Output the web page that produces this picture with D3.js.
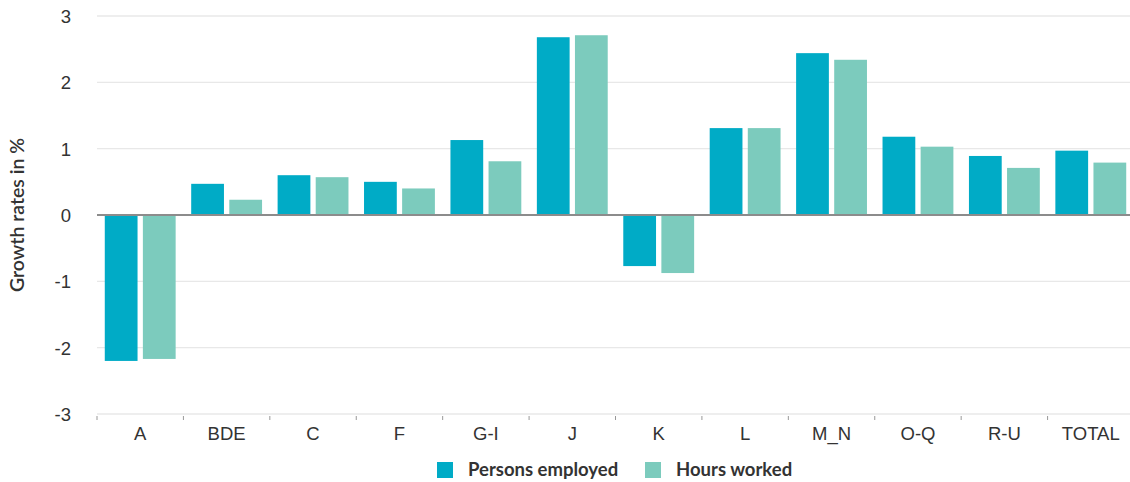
<!DOCTYPE html>
<html><head><meta charset="utf-8">
<script src="https://cdn.jsdelivr.net/npm/d3@7"></script>
<style>
html,body{margin:0;padding:0;background:#fff;}
svg{display:block;font-family:Lato,"Open Sans",sans-serif;}
</style></head>
<body><svg id="c" width="1130" height="482"></svg>
<script>
const categories = ["A","BDE","C","F","G-I","J","K","L","M_N","O-Q","R-U","TOTAL"];
const seriesNames = ["Persons employed","Hours worked"];
const personsEmployed = [-2.20,0.47,0.60,0.50,1.13,2.68,-0.77,1.31,2.44,1.18,0.89,0.97];
const hoursWorked = [-2.17,0.23,0.57,0.40,0.81,2.71,-0.875,1.31,2.34,1.03,0.71,0.79];
const yTicks = [-3,-2,-1,0,1,2,3];
const yTickLabels = ["-3","-2","-1","0","1","2","3"];
const colors = ["#00abc6","#7ccbbd"];

(function(){
const svg = d3.select("#c");
const mLeft = 97, mRight = 1134, mTop = 16, mBottom = 414;
const x = d3.scaleBand().domain(categories).range([mLeft, mRight]).paddingInner(0.18).paddingOuter(0.09);
const xBand = d3.scaleBand().domain(categories).range([mLeft, mRight]);
const x1 = d3.scaleBand().domain(seriesNames).range([0, x.bandwidth()]).paddingInner(0.14);
const y = d3.scaleLinear().domain([-3,3]).range([mBottom, mTop]);

// gridlines
svg.append("g").selectAll("line").data(yTicks.filter(d=>d!==0)).join("line")
  .attr("x1", mLeft).attr("x2", 1130).attr("y1", d=>y(d)).attr("y2", d=>y(d))
  .attr("stroke", "#e8e8e8").attr("stroke-width", 1.3);

// y labels
const yAxis = d3.axisLeft(y).tickValues(yTicks).tickSize(0).tickPadding(0)
  .tickFormat((d,i)=>yTickLabels[i]);
const ya = svg.append("g").attr("transform", `translate(${mLeft-26},0)`).call(yAxis);
ya.select(".domain").remove();
ya.selectAll("text").attr("font-size", 18.5).attr("fill", "#333").attr("text-anchor","end").attr("dy","0.35em");

// x axis ticks
const xa = svg.append("g").attr("transform", `translate(0,${mBottom})`)
  .call(d3.axisBottom(xBand).tickSize(0).tickPadding(0));
xa.select(".domain").remove();
xa.selectAll("text").attr("font-size", 18.5).attr("fill", "#333").attr("y", 26).attr("dy","0");
svg.append("g").selectAll("line").data(categories).join("line")
  .attr("x1", d=>xBand(d)).attr("x2", d=>xBand(d)).attr("y1", mBottom+2).attr("y2", mBottom+6)
  .attr("stroke", "#999").attr("stroke-width", 1);

// bars
const data = categories.map((c,i)=>({cat:c, vals:[personsEmployed[i], hoursWorked[i]]}));
const groups = svg.append("g").selectAll("g").data(data).join("g")
  .attr("transform", d=>`translate(${x(d.cat)},0)`);
groups.selectAll("rect").data(d=>d.vals.map((v,j)=>({v, s:seriesNames[j], j}))).join("rect")
  .attr("x", d=>x1(d.s)).attr("width", x1.bandwidth())
  .attr("y", d=>y(Math.max(0,d.v))).attr("height", d=>Math.abs(y(d.v)-y(0)))
  .attr("fill", d=>colors[d.j]);

// zero line
svg.append("line").attr("x1", mLeft).attr("x2", 1130).attr("y1", y(0)).attr("y2", y(0))
  .attr("stroke", "#8c8c8c").attr("stroke-width", 2);

// y title
svg.append("text").attr("transform", `translate(24,${(y(0))}) rotate(-90)`)
  .attr("text-anchor","middle").attr("font-size", 19.5).attr("font-weight", 600).attr("fill","#333")
  .text("Growth rates in %");

// legend
const leg = svg.append("g");
const legX = [437, 645];
seriesNames.forEach((s,i)=>{
  leg.append("rect").attr("x", legX[i]).attr("y", 462).attr("width", 16).attr("height", 16).attr("fill", colors[i]);
  leg.append("text").attr("x", legX[i]+31).attr("y", 476).attr("font-size", 18.5).attr("font-weight", 700)
    .attr("fill","#333").text(s);
});
})();
</script></body></html>
